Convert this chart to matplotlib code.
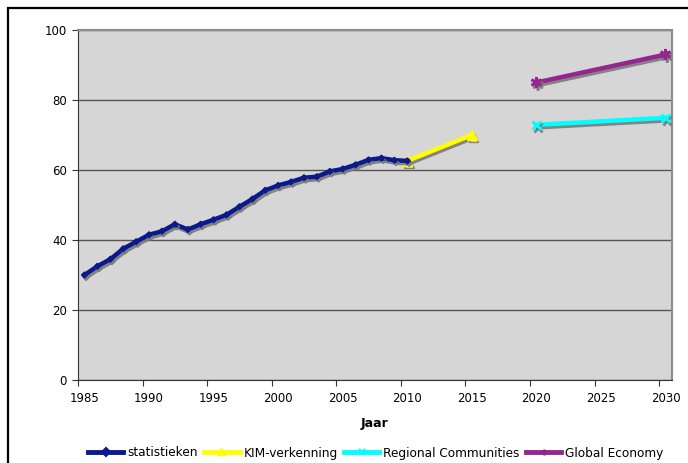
import matplotlib
matplotlib.use("Agg")
import matplotlib.pyplot as plt
import matplotlib.patheffects as pe
from matplotlib.patches import Rectangle
from matplotlib.lines import Line2D

# data
stat_years = list(range(1985, 2011))
stat_vals = [30.0, 32.5, 34.5, 37.5, 39.5, 41.5, 42.5, 44.5, 43.0, 44.5,
             45.8, 47.2, 49.5, 51.7, 54.2, 55.6, 56.6, 57.8, 58.1, 59.6,
             60.3, 61.5, 62.9, 63.4, 62.8, 62.6]
kim_years = [2010, 2015]
kim_vals = [62.6, 70.0]
reg_years = [2020, 2030]
reg_vals = [72.9, 74.9]
glob_years = [2020, 2030]
glob_vals = [85.0, 93.0]

labels = ["statistieken", "KIM-verkenning", "Regional Communities", "Global Economy"]
colors = ["#0a1a8c", "#ffff00", "#00ffff", "#94268f"]
markers = ["D", "^", "x", (6, 2, 0)]

plt.rcParams['font.family'] = ['DejaVu Sans']

fig = plt.figure(figsize=(6.88, 4.63), dpi=100)
ax = fig.add_axes([78/688, 1-380/463, 594/688, 350/463])
ax.set_facecolor("#d6d6d6")

shadow = [pe.SimpleLineShadow(offset=(1.2, -1.8), shadow_color="#7a7a7a", alpha=0.9), pe.Normal()]

ax.plot(stat_years, stat_vals, color=colors[0], lw=3.2, marker=markers[0], ms=3,
        path_effects=shadow, zorder=4)
ax.plot(kim_years, kim_vals, color=colors[1], lw=3.2, marker=markers[1], ms=7,
        path_effects=shadow, zorder=3)
ax.plot(reg_years, reg_vals, color=colors[2], lw=3.2, marker=markers[2], ms=6, mew=2,
        path_effects=shadow, zorder=3)
ax.plot(glob_years, glob_vals, color=colors[3], lw=3.2, marker=markers[3], ms=8, mew=2,
        path_effects=shadow, zorder=3)

ax.set_xlim(1984.5, 2030.5)
ax.set_ylim(0, 100)
ax.set_yticks([0, 20, 40, 60, 80, 100])
ax.yaxis.grid(True, color="#555555", lw=1)
ax.set_axisbelow(True)

# tick marks between categories, labels on the years
ax.set_xticks([y - 0.5 for y in range(1985, 2031, 5)])
ax.set_xticklabels([])
ax.set_xticks(list(range(1985, 2031, 5)), minor=True)
ax.set_xticklabels([str(y) for y in range(1985, 2031, 5)], minor=True)
ax.tick_params(axis="x", which="minor", length=0, pad=9, labelsize=8.5)
ax.tick_params(axis="x", which="major", length=4, color="#333333")
ax.tick_params(axis="y", length=4, labelsize=8.5, color="#333333", pad=4)

for s in ["top", "right"]:
    ax.spines[s].set_color("#8c8c8c")
    ax.spines[s].set_linewidth(1.5)
for s in ["left", "bottom"]:
    ax.spines[s].set_color("#333333")

ax.set_xlabel("Jaar", fontweight="bold", fontsize=9, labelpad=8)

handles = [Line2D([], [], color=c, lw=3.5, marker=m, ms=4, mew=1.5)
           for c, m in zip(colors, markers)]
fig.legend(handles, labels, loc="center", bbox_to_anchor=(376/688, 1-453/463), ncol=4,
           frameon=False, fontsize=8.7, handlelength=2.9, handletextpad=0.33,
           columnspacing=0.55)

# outer chart border (cropped on the right and bottom)
fig.patches.append(Rectangle((8/688, -0.1), 1.2, 1 - 8/463 + 0.1, transform=fig.transFigure,
                             fill=False, edgecolor="black", lw=1.6))

fig.savefig("out.png", dpi=100)
